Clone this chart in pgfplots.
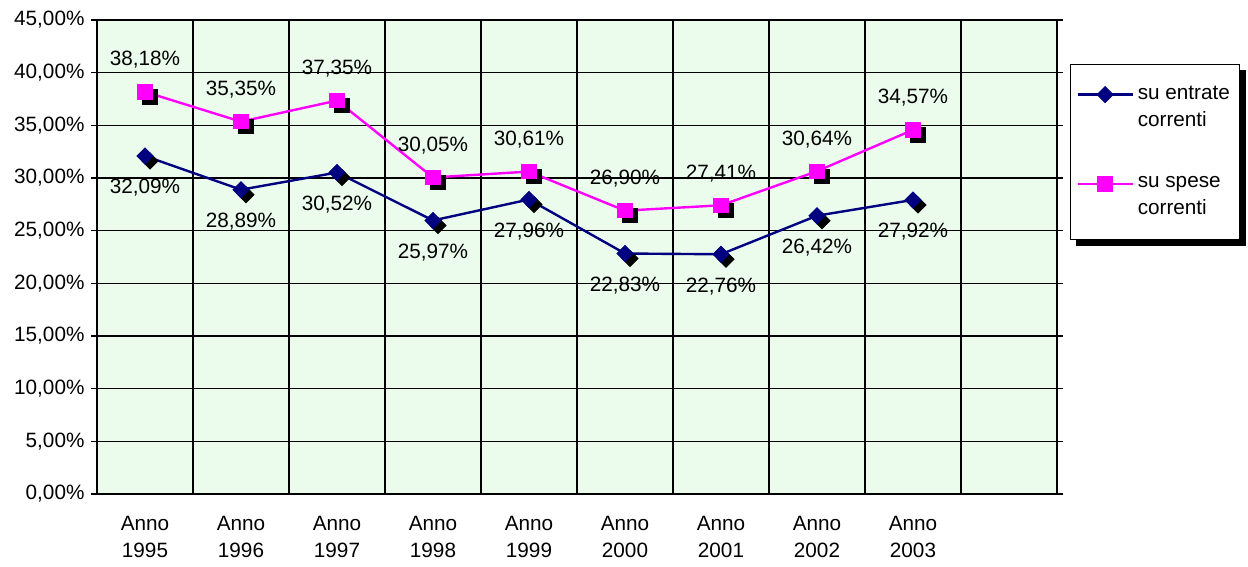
\documentclass[border=0pt]{standalone}
\usepackage{pgfplots}
\usepackage{pgfplotstable}
\pgfplotsset{compat=1.18}
\usepackage{fontspec}
\setmainfont{Liberation Sans}
\pgfdeclarelayer{bg}
\pgfsetlayers{bg,main}
\definecolor{bgg}{RGB}{236,252,236}
\definecolor{navyc}{RGB}{0,0,128}
\definecolor{magc}{RGB}{255,0,255}
\pgfplotstableread{
x e s
0 32.09 38.18
1 28.89 35.35
2 30.52 37.35
3 25.97 30.05
4 27.96 30.61
5 22.83 26.90
6 22.76 27.41
7 26.42 30.64
8 27.92 34.57
}\data
\begin{document}
\begin{tikzpicture}
\useasboundingbox (-48.5bp,-36.5bp) rectangle (575.5bp,247bp);
\begin{axis}[
  scale only axis, width=480bp, height=237bp,
  xmin=-0.5, xmax=9.5, ymin=0, ymax=45,
  axis background/.style={fill=bgg},
  font=\fontsize{10.4}{13.2}\selectfont,
  /pgf/number format/assume math mode=true,
  xtick={0,...,8},
  xticklabels={{Anno\\1995},{Anno\\1996},{Anno\\1997},{Anno\\1998},{Anno\\1999},{Anno\\2000},{Anno\\2001},{Anno\\2002},{Anno\\2003}},
  xticklabel style={align=center, yshift=-5bp},
  minor xtick={0.5,1.5,...,8.5},
  xminorgrids=true,
  xtick style={draw=none},
  ytick={0,5,...,45},
  ymajorgrids,
  yticklabel={\pgfmathprintnumber[fixed,fixed zerofill,precision=2,use comma]{\tick}\%},
  tick align=outside,
  major tick length=2.75bp,
  ytick style={black, line width=0.6bp},
  grid style={black, line width=0.6bp},
  minor grid style={black, line width=0.6bp},
  axis line style={black, line width=0.6bp},
  legend style={name=leg, at={(1.0135,0.907)}, anchor=north west, draw=black, fill=white,
    cells={anchor=west, align=left}, row sep=19.5bp, inner xsep=3bp, inner ysep=9bp,
    font=\fontsize{10.4}{13.5}\selectfont},
  legend image code/.code={\draw[yshift=6.75bp,mark repeat=2,mark phase=2] plot coordinates {(0bp,0bp) (13.75bp,0bp) (27.5bp,0bp)};},
  nodes near coords={\pgfmathprintnumber[fixed,fixed zerofill,precision=2,use comma]{\pgfplotspointmeta}\%},
]
% shadows
\addplot[only marks, black, mark=square*, mark size=2.85bp, mark options={xshift=2.5bp,yshift=-2.5bp,rotate=45}, forget plot, nodes near coords=] table[x=x,y=e] {\data};
\addplot[only marks, black, mark=square*, mark size=3.6bp, mark options={xshift=2.5bp,yshift=-2.5bp}, forget plot, nodes near coords=] table[x=x,y=s] {\data};
% series
\addplot[navyc, line width=1.2bp, mark=square*, mark size=2.85bp, mark options={rotate=45, solid, fill=navyc, line width=0.4bp},
  point meta=explicit,
  nodes near coords style={anchor=center, yshift=-16bp, text=black}]
  table[x=x,y=e,meta=e] {\data};
\addlegendentry{su entrate\\correnti}
\addplot[magc, line width=1.2bp, mark=square*, mark size=3.6bp, mark options={solid, fill=magc, line width=0.4bp},
  point meta=explicit,
  nodes near coords style={anchor=center, yshift=16bp, text=black}]
  table[x=x,y=s,meta=s] {\data};
\addlegendentry{su spese\\correnti}
\end{axis}
\begin{pgfonlayer}{bg}
\fill[black] ([shift={(3bp,-3bp)}]leg.south west) rectangle ([shift={(3bp,-3bp)}]leg.north east);
\end{pgfonlayer}
\end{tikzpicture}
\end{document}
